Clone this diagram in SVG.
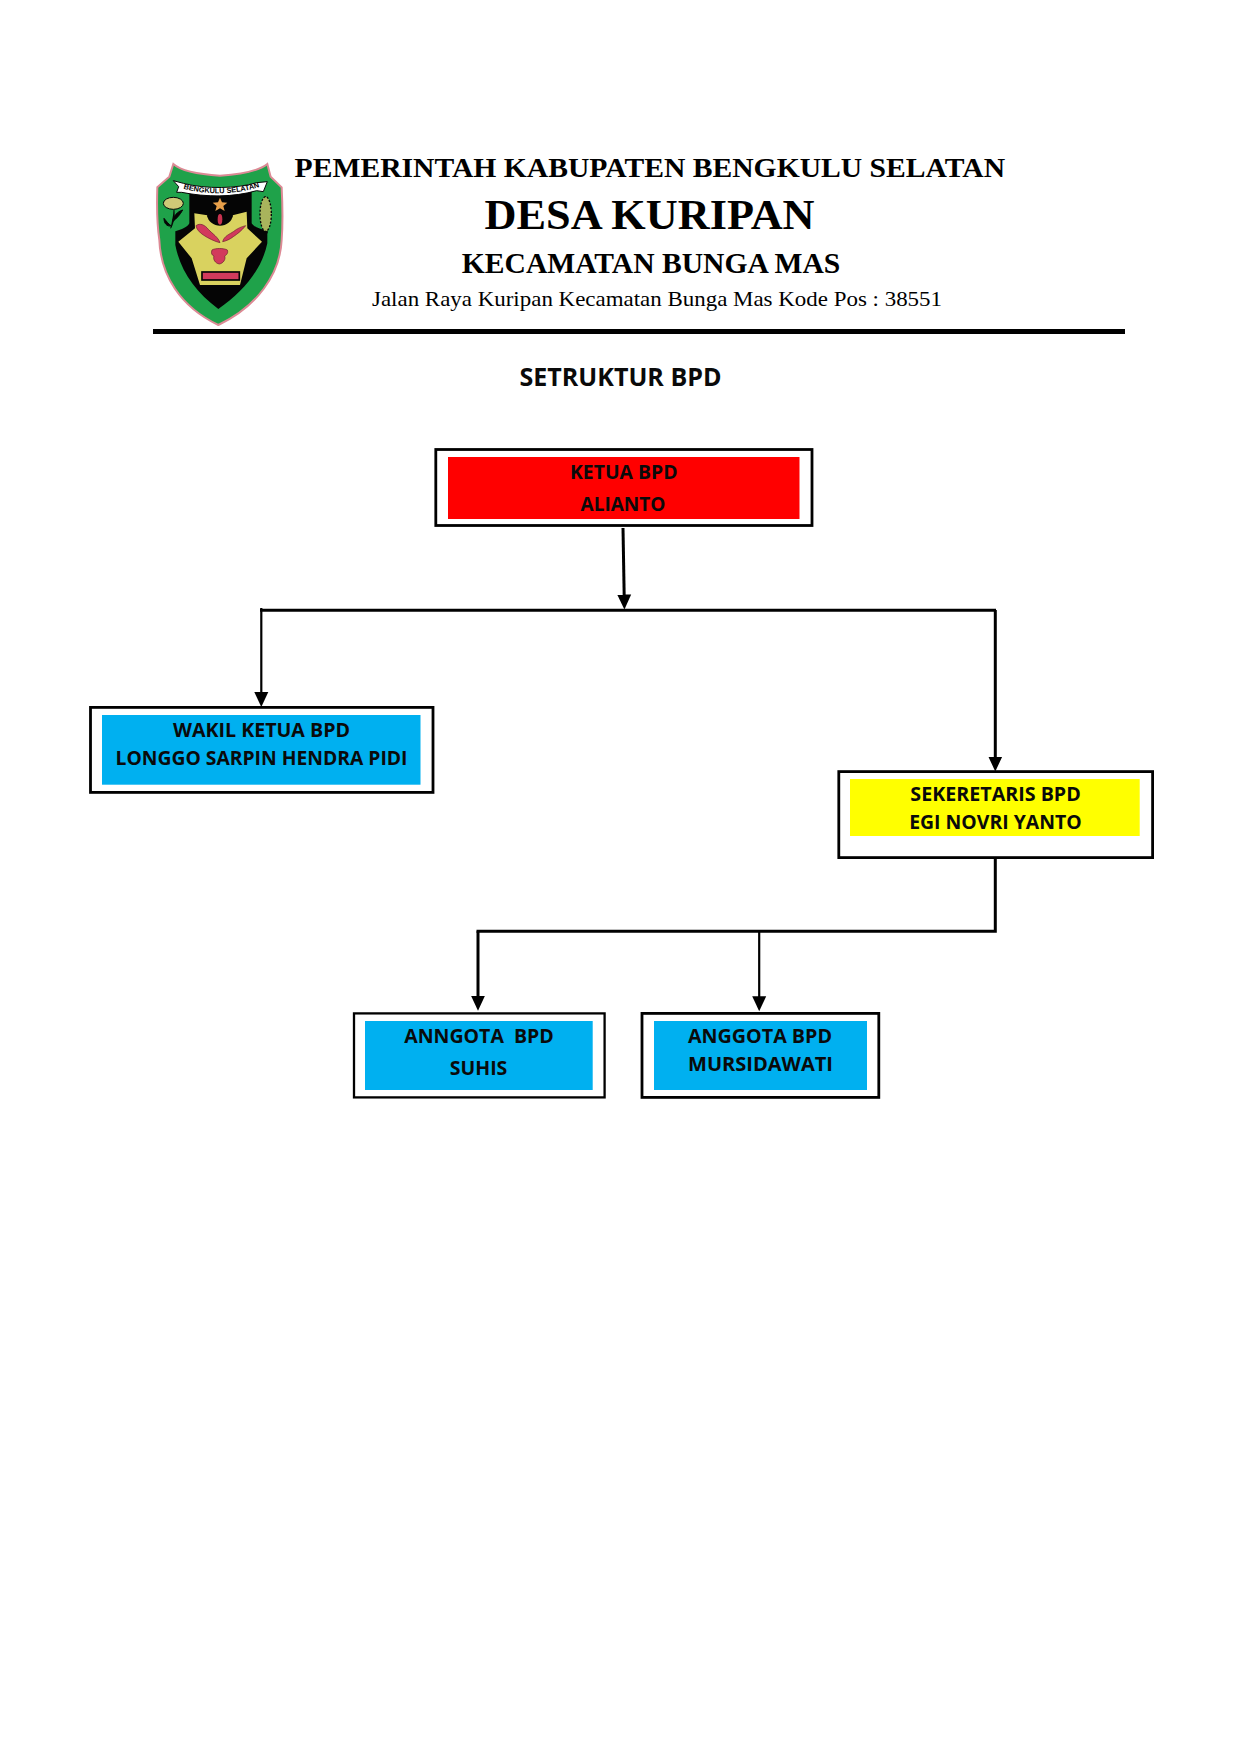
<svg xmlns="http://www.w3.org/2000/svg" width="1240" height="1754" viewBox="0 0 1240 1754">
<style>
.hd{font-family:"Liberation Serif","Times New Roman",serif;fill:#000}
.b{font-weight:bold}
.t{font-family:"Open Sans","Noto Sans",sans-serif;font-weight:700;font-size:20px;fill:#0a0a0a}
.frame{fill:#fff;stroke:#000;stroke-width:2.8}
.line{fill:none;stroke:#000;stroke-width:3}
.thin{fill:none;stroke:#000;stroke-width:2.2}
.red{fill:#d23a5c;stroke:#6b1d30;stroke-width:2}
</style>
<defs>
<marker id="arrow" markerUnits="userSpaceOnUse" markerWidth="16" markerHeight="16" refX="8" refY="7.5" orient="auto">
<path d="M0 0.5L15 7.5L0 14.5Z" fill="#000"/>
</marker>
</defs>
<rect width="1240" height="1754" fill="#fff"/>

<g id="emblem" transform="translate(150 160) scale(.3333)">
<path d="M70 12C90 30 130 42 210 47C290 42 330 30 352 12L362 50L395 82C398 140 398 200 395 240C390 345 320 440 205 495C90 440 32 345 28 240C22 200 20 140 22 82L58 50Z" fill="#1fa24a" stroke="#dc8a95" stroke-width="6"/>
<path d="M118 92H305V190C312 202 330 206 352 214L352 250C335 330 280 395 205 447C135 395 90 330 76 255L76 214C95 208 112 202 118 190Z" fill="#050505"/>
<path d="M133 160L172 166V172H248V166L290 155L292 205L336 245L290 295L270 375H150L125 295L85 245L135 205Z" fill="#d9d25f"/>
<path d="M172 165H248C248 185 228 197 210 197C192 197 172 185 172 165Z" fill="#050505"/>
<ellipse cx="210" cy="178" rx="7" ry="16" fill="#c9324f"/>
<path d="M210 113L216 127L232 128L220 138L224 153L210 145L196 153L200 138L188 128L204 127Z" fill="#e8a04a"/>
<path class="red" d="M138 197C150 188 165 195 175 208C188 222 205 232 210 248C195 245 175 235 160 225C148 217 140 208 138 197Z"/>
<path class="red" d="M218 245C222 228 240 222 250 215C262 205 275 200 287 197C275 212 262 222 250 230C240 238 228 243 218 245Z"/>
<path class="red" d="M186 270C195 264 222 264 232 270C236 280 228 286 224 288C228 298 220 310 208 312C196 310 188 298 192 288C186 286 182 280 186 270Z"/>
<rect x="156" y="336" width="112" height="24" fill="#d23a5c" stroke="#050505" stroke-width="5"/>
<path d="M70 62L100 70C170 88 260 86 320 68L352 65L340 95L320 92C250 112 170 112 95 97L80 97L86 80Z" fill="#fff" stroke="#050505" stroke-width="3"/>
<path id="bannerArc" d="M100 86C170 106 260 104 330 80" fill="none"/>
<text font-family="'Liberation Sans',sans-serif" font-weight="bold" font-size="22" fill="#000"><textPath href="#bannerArc" textLength="232" lengthAdjust="spacingAndGlyphs">BENGKULU SELATAN</textPath></text>
<path d="M72 150C74 170 70 190 62 205M68 185C80 175 90 165 98 150C82 155 70 168 68 185ZM64 198C55 192 48 182 42 175C42 190 50 200 64 198Z" fill="#050505" stroke="#050505" stroke-width="3"/>
<ellipse cx="70" cy="130" rx="30" ry="18" fill="#cfc977" stroke="#050505" stroke-width="3"/>
<path d="M352 220C348 180 348 140 346 108" fill="none" stroke="#050505" stroke-width="3"/>
<ellipse cx="347" cy="162" rx="17" ry="52" fill="#a9b45c" stroke="#050505" stroke-width="4" stroke-dasharray="6 5"/>
</g>

<g id="header">
<text class="hd b" x="294.6" y="176.5" font-size="27" textLength="710.5" lengthAdjust="spacingAndGlyphs">PEMERINTAH KABUPATEN BENGKULU SELATAN</text>
<text class="hd b" x="484.6" y="229.3" font-size="42" textLength="330" lengthAdjust="spacingAndGlyphs">DESA KURIPAN</text>
<text class="hd b" x="461.8" y="272.7" font-size="28.5" textLength="378.5" lengthAdjust="spacingAndGlyphs">KECAMATAN BUNGA MAS</text>
<text class="hd" x="372" y="305.7" font-size="21" textLength="570" lengthAdjust="spacingAndGlyphs">Jalan Raya Kuripan Kecamatan Bunga Mas Kode Pos : 38551</text>
<rect x="153" y="329" width="972" height="5" fill="#000"/>
<text x="519.5" y="385.7" font-family="'Open Sans','Noto Sans',sans-serif" font-weight="700" font-size="25" fill="#0a0a0a" textLength="202" lengthAdjust="spacingAndGlyphs">SETRUKTUR BPD</text>
</g>

<g id="connectors">
<path class="line" d="M623 528L624.3 602.5" marker-end="url(#arrow)"/>
<path class="line" d="M260 610.3H996"/>
<path class="thin" d="M261.3 608V700" marker-end="url(#arrow)"/>
<path class="line" d="M995.3 610V764.5" marker-end="url(#arrow)"/>
<path class="line" d="M995.3 858V931.3H476.5"/>
<path class="line" d="M478 931.3V1003.7" marker-end="url(#arrow)"/>
<path class="thin" d="M759.2 931.3V1004.3" marker-end="url(#arrow)"/>
</g>

<g id="ketua">
<rect class="frame" x="435.8" y="449.5" width="376.2" height="76"/>
<rect x="448" y="457" width="351.5" height="62" fill="#f00"/>
<text class="t" x="570" y="479" textLength="107.5" lengthAdjust="spacingAndGlyphs">KETUA BPD</text>
<text class="t" x="580.5" y="510.7" textLength="85" lengthAdjust="spacingAndGlyphs">ALIANTO</text>
</g>
<g id="wakil">
<rect class="frame" x="90.5" y="707.4" width="342.5" height="85"/>
<rect x="102" y="715" width="318.5" height="69.7" fill="#00b0f0"/>
<text class="t" x="173" y="736.7" textLength="177" lengthAdjust="spacingAndGlyphs">WAKIL KETUA BPD</text>
<text class="t" x="115.5" y="764.7" textLength="292" lengthAdjust="spacingAndGlyphs">LONGGO SARPIN HENDRA PIDI</text>
</g>
<g id="sekretaris">
<rect class="frame" x="838.8" y="771.6" width="313.8" height="86"/>
<rect x="850" y="779" width="289.7" height="57" fill="#ff0"/>
<text class="t" x="910.3" y="800.7" textLength="170.5" lengthAdjust="spacingAndGlyphs">SEKERETARIS BPD</text>
<text class="t" x="909.2" y="828.7" textLength="172.5" lengthAdjust="spacingAndGlyphs">EGI NOVRI YANTO</text>
</g>
<g id="anggota1">
<rect class="frame" x="354" y="1013.4" width="250.6" height="84" style="stroke-width:2.3"/>
<rect x="365" y="1021" width="227.7" height="69" fill="#00b0f0"/>
<text class="t" x="404.3" y="1042.7" textLength="149.5" lengthAdjust="spacingAndGlyphs" xml:space="preserve">ANNGOTA  BPD</text>
<text class="t" x="449.8" y="1074.7" textLength="57.5" lengthAdjust="spacingAndGlyphs">SUHIS</text>
</g>
<g id="anggota2">
<rect class="frame" x="642" y="1013.4" width="236.8" height="84"/>
<rect x="654" y="1021" width="213" height="69" fill="#00b0f0"/>
<text class="t" x="688" y="1042.7" textLength="144" lengthAdjust="spacingAndGlyphs">ANGGOTA BPD</text>
<text class="t" x="688" y="1070.7" textLength="145" lengthAdjust="spacingAndGlyphs">MURSIDAWATI</text>
</g>
</svg>
